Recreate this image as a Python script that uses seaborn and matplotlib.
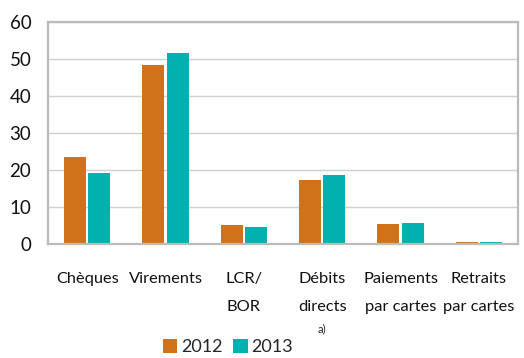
import matplotlib
matplotlib.use("Agg")
import matplotlib.pyplot as plt
from matplotlib.patches import Patch
import pandas as pd
import seaborn as sns

categories = ["Chèques", "Virements", "LCR/\nBOR", "Débits\ndirects",
              "Paiements\npar cartes", "Retraits\npar cartes"]
values_2012 = [23.6, 48.4, 5.1, 17.3, 5.5, 0.7]
values_2013 = [19.1, 51.6, 4.7, 18.8, 5.8, 0.7]
years = ["2012", "2013"]
yticks = [0, 10, 20, 30, 40, 50, 60]

colors = {"2012": "#D0721A", "2013": "#00B1B0"}

df = pd.DataFrame({
    "cat": categories * 2,
    "val": values_2012 + values_2013,
    "year": [years[0]] * len(categories) + [years[1]] * len(categories),
})

sns.set_theme(style="white")
plt.rcParams["font.family"] = ["Lato", "DejaVu Sans"]

fig = plt.figure(figsize=(5.24, 3.58), dpi=100)
ax = fig.add_axes([0.0916, 0.318, 0.897, 0.62])

sns.barplot(data=df, x="cat", y="val", hue="year", palette=colors,
            width=0.62, gap=0.1, ax=ax, legend=False, saturation=1,
            linewidth=0)

ax.set_ylim(0, 60)
ax.set_xlim(-0.5, len(categories) - 0.5)
ax.set_yticks(yticks)
ax.set_yticklabels([str(t) for t in yticks], fontsize=13.5, color="#111111")
ax.yaxis.grid(True, color="#D0D0D0", linewidth=1.0)
ax.set_axisbelow(True)
ax.tick_params(axis="y", length=0, pad=12)
ax.tick_params(axis="x", length=0, pad=20)
ax.set_xticklabels(categories, fontsize=11.8, linespacing=2.25, color="#111111",
                   va="top")
ax.set_xlabel("")
ax.set_ylabel("")
for sp in ax.spines.values():
    sp.set_visible(True)
    sp.set_color("#BBBBBB")
    sp.set_linewidth(1.6)

# footnote marker under "directs"
ax.annotate("a)", xy=(3, 0), xycoords="data", xytext=(0, -61),
            textcoords="offset points", ha="center", va="center", fontsize=8)

handles = [Patch(facecolor=colors[y], edgecolor="none") for y in years]
fig.legend(handles, years, loc="lower center", bbox_to_anchor=(0.435, -0.038),
           ncol=2, frameon=False, fontsize=13, handlelength=0.8,
           handleheight=0.8, handletextpad=0.2, columnspacing=0.6)

fig.savefig("out.png", dpi=100)
